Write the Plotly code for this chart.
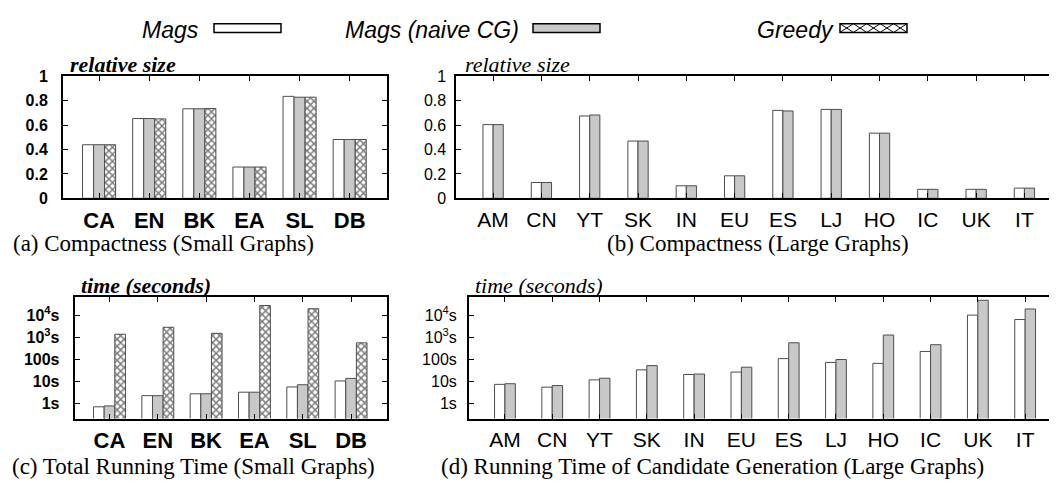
import math
import plotly.graph_objects as go

W, H = 1057, 483

small_cats = ["CA", "EN", "BK", "EA", "SL", "DB"]
large_cats = ["AM", "CN", "YT", "SK", "IN", "EU", "ES", "LJ", "HO", "IC", "UK", "IT"]

size_small_mags = [0.44, 0.655, 0.735, 0.257, 0.837, 0.483]
size_small_naive = [0.44, 0.655, 0.735, 0.257, 0.83, 0.483]
size_small_greedy = [0.44, 0.652, 0.737, 0.257, 0.83, 0.483]

size_large_mags = [0.605, 0.13, 0.676, 0.47, 0.103, 0.185, 0.722, 0.73, 0.535, 0.074, 0.074, 0.084]
size_large_naive = [0.605, 0.13, 0.684, 0.47, 0.103, 0.185, 0.717, 0.73, 0.535, 0.074, 0.074, 0.084]

time_small_mags = [0.72, 2.3, 2.8, 3.3, 5.7, 10.7]
time_small_naive = [0.79, 2.3, 2.8, 3.3, 7.2, 14.0]
time_small_greedy = [1400, 2900, 1540, 28000, 20000, 570]

time_large_mags = [7.5, 5.6, 12, 34, 21, 27, 110, 74, 67, 232, 10300, 6500]
time_large_naive = [8.0, 6.6, 14.2, 53, 22, 45, 575, 100, 1290, 470, 48500, 19600]

log_tickvals = [1, 10, 100, 1000, 10000]
log_ticktext = ["1s", "10s", "100s", "10<sup>3</sup>s", "10<sup>4</sup>s"]
lin_tickvals = [0, 0.2, 0.4, 0.6, 0.8, 1]
lin_ticktext = ["0", "0.2", "0.4", "0.6", "0.8", "1"]

series_names = ["Mags", "Mags (naive CG)", "Greedy"]

OUTLINE = dict(color="#4d4d4d", width=1)
GRAY = "#c8c8c8"
HATCH = dict(shape="x", fgcolor="black", bgcolor="white", size=5, solidity=0.5)


def px(x):
    return x / W


def py(y):
    return 1 - y / H


fig = go.Figure()

# ---- panel (a)
fig.add_trace(go.Bar(x=small_cats, y=size_small_mags, name=series_names[0], width=0.22, offset=-0.33,
                     marker=dict(color="white", line=OUTLINE), xaxis="x", yaxis="y", showlegend=False))
fig.add_trace(go.Bar(x=small_cats, y=size_small_naive, name=series_names[1], width=0.22, offset=-0.11,
                     marker=dict(color=GRAY, line=OUTLINE), xaxis="x", yaxis="y", showlegend=False))
fig.add_trace(go.Bar(x=small_cats, y=size_small_greedy, name=series_names[2], width=0.22, offset=0.11,
                     marker=dict(color="white", line=OUTLINE, pattern=HATCH),
                     xaxis="x", yaxis="y", showlegend=False))

# ---- panel (b)
fig.add_trace(go.Bar(x=large_cats, y=size_large_mags, name=series_names[0], width=0.21, offset=-0.21,
                     marker=dict(color="white", line=OUTLINE), xaxis="x2", yaxis="y2", showlegend=False))
fig.add_trace(go.Bar(x=large_cats, y=size_large_naive, name=series_names[1], width=0.21, offset=0.0,
                     marker=dict(color=GRAY, line=OUTLINE), xaxis="x2", yaxis="y2", showlegend=False))

# ---- panel (c)
fig.add_trace(go.Bar(x=small_cats, y=time_small_mags, name=series_names[0], width=0.22, offset=-0.33,
                     marker=dict(color="white", line=OUTLINE), xaxis="x3", yaxis="y3", showlegend=False))
fig.add_trace(go.Bar(x=small_cats, y=time_small_naive, name=series_names[1], width=0.22, offset=-0.11,
                     marker=dict(color=GRAY, line=OUTLINE), xaxis="x3", yaxis="y3", showlegend=False))
fig.add_trace(go.Bar(x=small_cats, y=time_small_greedy, name=series_names[2], width=0.22, offset=0.11,
                     marker=dict(color="white", line=OUTLINE, pattern=HATCH),
                     xaxis="x3", yaxis="y3", showlegend=False))

# ---- panel (d)
fig.add_trace(go.Bar(x=large_cats, y=time_large_mags, name=series_names[0], width=0.22, offset=-0.22,
                     marker=dict(color="white", line=OUTLINE), xaxis="x4", yaxis="y4", showlegend=False))
fig.add_trace(go.Bar(x=large_cats, y=time_large_naive, name=series_names[1], width=0.22, offset=0.0,
                     marker=dict(color=GRAY, line=OUTLINE), xaxis="x4", yaxis="y4", showlegend=False))

BOLD_SANS = dict(family="Liberation Sans, Arial, sans-serif", color="black", weight="bold")
PLAIN_SANS = dict(family="Liberation Sans, Arial, sans-serif", color="black")


def xaxis(domain, cats, rng, font, anchor, standoff=1):
    return dict(domain=domain, anchor=anchor, type="category", categoryorder="array", categoryarray=cats,
                range=rng, showline=True, linecolor="black", linewidth=2, mirror="ticks",
                ticks="inside", ticklen=5, tickcolor="black", tickwidth=1,
                showgrid=False, zeroline=False, tickfont=font, ticklabelstandoff=standoff, fixedrange=True)


def yaxis(domain, anchor, font, log=False, standoff=8):
    d = dict(domain=domain, anchor=anchor, showline=True, linecolor="black", linewidth=2, mirror="ticks",
             ticks="inside", ticklen=5, tickcolor="black", tickwidth=1, showgrid=False, zeroline=False,
             tickfont=font, ticklabelstandoff=standoff, fixedrange=True)
    if log:
        d.update(type="log", range=[math.log10(0.21), math.log10(70000)], tickmode="array",
                 tickvals=log_tickvals, ticktext=log_ticktext)
    else:
        d.update(range=[0, 1], tickmode="array", tickvals=lin_tickvals, ticktext=lin_ticktext)
    return d


small_rng = [-0.72, 5.75]
large_rng = [-0.76, 11.72]

top_y = [py(189), py(62.7)]
bot_y = [py(417.3), py(291)]

fig.update_layout(
    width=W, height=H,
    margin=dict(l=0, r=0, t=0, b=0),
    paper_bgcolor="white", plot_bgcolor="white",
    barmode="overlay",
    xaxis=xaxis([px(55), px(379.3)], small_cats, small_rng, dict(BOLD_SANS, size=22), "y"),
    yaxis=yaxis(top_y, "x", dict(BOLD_SANS, size=16), standoff=10),
    xaxis2=xaxis([px(448.4), px(1051.2)], large_cats, large_rng, dict(PLAIN_SANS, size=21), "y2"),
    yaxis2=yaxis(top_y, "x2", dict(PLAIN_SANS, size=16), standoff=5),
    xaxis3=xaxis([px(66.7), px(379.3)], small_cats, small_rng, dict(BOLD_SANS, size=22), "y3"),
    yaxis3=yaxis(bot_y, "x3", dict(BOLD_SANS, size=16), log=True, standoff=10),
    xaxis4=xaxis([px(461), px(1051.2)], large_cats, large_rng, dict(PLAIN_SANS, size=21), "y4"),
    yaxis4=yaxis(bot_y, "x4", dict(PLAIN_SANS, size=16), log=True, standoff=7),
)

ann = []
SERIF = "Liberation Serif, Times New Roman, serif"
# axis titles
for (x, y, t, bold) in [(60, 50, "relative size", True), (455, 50, "relative size", False),
                        (71, 279, "time (seconds)", True), (465, 279, "time (seconds)", False)]:
    txt = f"<b><i>{t}</i></b>" if bold else f"<i>{t}</i>"
    ann.append(dict(x=px(x), y=py(y), xref="paper", yref="paper", text=txt, showarrow=False,
                    xanchor="left", yanchor="middle", font=dict(family=SERIF, size=22, color="black")))
# captions
for (x, y, t, anchor) in [(3, 236, "(a) Compactness (Small Graphs)", "left"),
                          (750, 236, "(b) Compactness (Large Graphs)", "center"),
                          (2, 467, "(c) Total Running Time (Small Graphs)", "left"),
                          (704, 467, "(d) Running Time of Candidate Generation (Large Graphs)", "center")]:
    ann.append(dict(x=px(x), y=py(y), xref="paper", yref="paper", text=t, showarrow=False,
                    xanchor=anchor, yanchor="middle", font=dict(family=SERIF, size=23, color="black")))

# legend (manual, swatch after text like the original key)
legend_items = [(193, 206, series_names[0]), (513, 525, series_names[1]), (828, 832, series_names[2])]
shapes = []
for (tx, sx, name) in legend_items:
    ann.append(dict(x=px(tx), y=py(15), xref="paper", yref="paper", text=f"<i>{name}</i>", showarrow=False,
                    xanchor="right", yanchor="middle",
                    font=dict(family="Liberation Sans, Arial, sans-serif", size=23, color="black")))
sw_w, sw_y0, sw_y1 = 67, 8, 17
fills = ["white", GRAY, "white"]
for (item, fill) in zip(legend_items, fills):
    sx = item[1]
    shapes.append(dict(type="rect", xref="paper", yref="paper", x0=px(sx), x1=px(sx + sw_w),
                       y0=py(sw_y1), y1=py(sw_y0), fillcolor=fill, line=dict(color="black", width=1.5)))
# crosshatch inside Greedy swatch
gx0 = legend_items[2][1]
n = 5
step = sw_w / n
path = ""
for i in range(n):
    a = gx0 + i * step
    b = a + step
    path += f"M{px(a)},{py(sw_y1)} L{px(b)},{py(sw_y0)} M{px(a)},{py(sw_y0)} L{px(b)},{py(sw_y1)} "
shapes.append(dict(type="path", xref="paper", yref="paper", path=path, line=dict(color="black", width=1)))

fig.update_layout(annotations=ann, shapes=shapes)

fig.write_html("out.html")
